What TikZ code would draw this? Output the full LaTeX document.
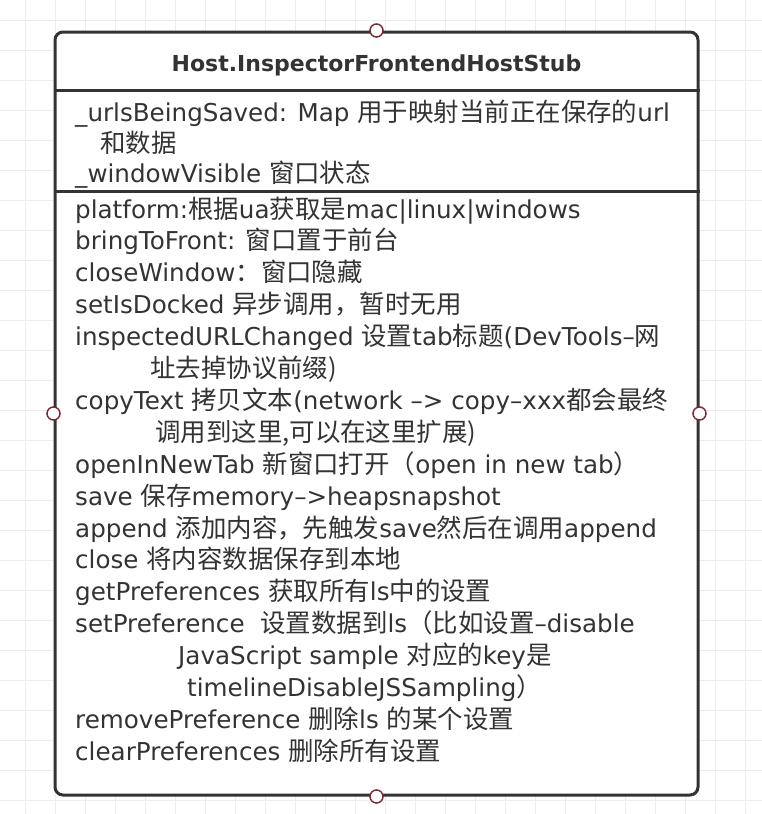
\documentclass[tikz,border=0pt]{standalone}
\usepackage{fontspec}
\setmainfont{DejaVu Sans}
\newfontfamily\cjk[Scale=1.035]{Noto Sans CJK SC}
\newcommand\zh[1]{{\cjk #1}}
\definecolor{txt}{HTML}{333333}
\definecolor{edge}{HTML}{333333}
\definecolor{portc}{HTML}{7A2B33}
\definecolor{gridc}{HTML}{EDEDED}
\tikzset{
  row/.style={anchor=base west, inner sep=0pt, text=txt, font=\fontsize{24.6}{30}\selectfont},
  portnode/.style={circle, draw=portc, fill=white, line width=1.5pt, minimum size=13pt, inner sep=0pt},
  sep/.style={draw=edge, line width=3pt}
}
\begin{document}
\begin{tikzpicture}[x=1pt,y=-1pt]
\useasboundingbox (0,0) rectangle (762,814);
\fill[white] (0,0) rectangle (762,814);
\foreach \x in {25,55,...,745} \draw[gridc, line width=1pt] (\x,0) -- (\x,814);
\foreach \y in {20,50,...,800} \draw[gridc, line width=1pt] (0,\y) -- (762,\y);
\node[draw=edge, line width=3pt, rounded corners=8pt, fill=white, minimum width=643pt, minimum height=763pt, inner sep=0pt] (cls) at (376.5,413.5) {};
\coordinate (s1) at (0,90);
\coordinate (s2) at (0,191);
\draw[sep] (cls.west |- s1) -- (cls.east |- s1);
\draw[sep] (cls.west |- s2) -- (cls.east |- s2);
\node[anchor=base, inner sep=0pt, text=txt, font=\bfseries\fontsize{22}{26}\selectfont] (title) at (376.5,71) {Host.InspectorFrontendHostStub};
\node[row] (a1) at (75,121) {\_urlsBeingSaved: Map \zh{用于映射当前正在保存的}url};
\node[row] (a2) at (100,152) {\zh{和数据}};
\node[row] (a3) at (75,182.5) {\_windowVisible \zh{窗口状态}};
\node[row] (b0) at (75,218) {platform:\zh{根据}ua\zh{获取是}mac|linux|windows};
\node[row] (b1) at (75,249.9) {bringToFront: \zh{窗口置于前台}};
\node[row] (b2) at (75,281.8) {closeWindow\zh{：窗口隐藏}};
\node[row] (b3) at (75,313.7) {setIsDocked \zh{异步调用，暂时无用}};
\node[row] (b4) at (75,345.6) {inspectedURLChanged \zh{设置}tab\zh{标题}(DevTools--\zh{网}};
\node[row] (b5) at (150,377.5) {\zh{址去掉协议前缀)}};
\node[row] (b6) at (75,409.4) {copyText \zh{拷贝文本}(network --> copy--xxx\zh{都会最终}};
\node[row] (b7) at (155,441.3) {\zh{调用到这里,可以在这里扩展)}};
\node[row] (b8) at (75,473.2) {openInNewTab \zh{新窗口打开（}open in new tab\zh{）}};
\node[row] (b9) at (75,505.1) {save \zh{保存}memory-->heapsnapshot};
\node[row] (b10) at (75,537) {append \zh{添加内容，先触发}save\zh{然后在调用}append};
\node[row] (b11) at (75,568.9) {close \zh{将内容数据保存到本地}};
\node[row] (b12) at (75,600.8) {getPreferences \zh{获取所有}ls\zh{中的设置}};
\node[row] (b13) at (75,632.7) {setPreference\ \ \zh{设置数据到}ls\zh{（比如设置}--disable};
\node[row] (b14) at (178,664.6) {JavaScript sample \zh{对应的}key\zh{是}};
\node[row] (b15) at (187,696.5) {timelineDisableJSSampling\zh{）}};
\node[row] (b16) at (75,728.4) {removePreference \zh{删除}ls \zh{的某个设置}};
\node[row] (b17) at (75,760.3) {clearPreferences \zh{删除所有设置}};
\node[portnode] (pn) at (cls.north) {};
\node[portnode] (ps) at (cls.south) {};
\node[portnode] (pw) at (cls.west) {};
\node[portnode] (pe) at (cls.east) {};
\end{tikzpicture}
\end{document}
